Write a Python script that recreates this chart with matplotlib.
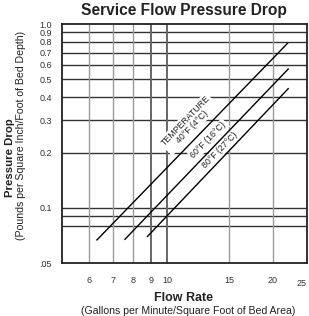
import matplotlib
matplotlib.use("Agg")
import matplotlib.pyplot as plt

plt.rcParams['font.family'] = ['Liberation Sans', 'DejaVu Sans']

# Data
flow_40 = [6.3, 22.0]
pd_40 = [0.067, 0.785]
flow_60 = [7.57, 22.1]
pd_60 = [0.0675, 0.569]
flow_80 = [8.78, 22.1]
pd_80 = [0.070, 0.445]

x_ticks = [6, 7, 8, 9, 10, 15, 20, 25]
x_labels = ['6', '7', '8', '9', '10', '15', '20', '25']
y_ticks = [0.05, 0.1, 0.2, 0.3, 0.4, 0.5, 0.6, 0.7, 0.8, 0.9, 1.0]
y_labels = ['.05', '0.1', '0.2', '0.3', '0.4', '0.5', '0.6', '0.7', '0.8', '0.9', '1.0']
h_grid = [0.08, 0.09, 0.1, 0.2, 0.3, 0.4, 0.5, 0.6, 0.7, 0.8, 0.9]
v_grid_light = [6, 7, 8, 15, 20]
v_grid_dark = [9, 10]

fig = plt.figure(figsize=(3.09, 3.16), dpi=100)
ax = fig.add_axes([0.1997, 0.1668, 0.7938, 0.7572])
ax.set_xscale('log')
ax.set_yscale('log')
ax.set_xlim(5.0, 25.0)
ax.set_ylim(0.05, 1.0)

for y in h_grid:
    ax.axhline(y, color='#333333', lw=1.0, zorder=1)
for x in v_grid_light:
    ax.axvline(x, color='#9a9a9a', lw=1.0, zorder=1)
for x in v_grid_dark:
    ax.axvline(x, color='#666666', lw=1.4, zorder=1)

for fx, py in [(flow_40, pd_40), (flow_60, pd_60), (flow_80, pd_80)]:
    ax.plot(fx, py, color='black', lw=1.0, zorder=4)

bb = dict(facecolor='white', edgecolor='none', pad=1.0)
ax.text(11.5, 0.286, 'TEMPERATURE\n40°F (4°C)', rotation=46, rotation_mode='anchor',
        ha='center', va='center', fontsize=6.3, color='#222222', linespacing=1.0,
        bbox=bb, zorder=3)
ax.text(13.1, 0.234, '60°F (16°C)', rotation=46, rotation_mode='anchor',
        ha='center', va='center', fontsize=6.3, color='#222222', bbox=bb, zorder=3)
ax.text(14.1, 0.205, '80°F (27°C)', rotation=46, rotation_mode='anchor',
        ha='center', va='center', fontsize=6.3, color='#222222', bbox=bb, zorder=3)

ax.set_xticks(x_ticks)
ax.set_xticklabels(x_labels)
ax.set_yticks(y_ticks)
ax.set_yticklabels(y_labels)
ax.minorticks_off()
ax.tick_params(axis='both', length=0, labelsize=6.5, colors='#333333')
ax.tick_params(axis='x', pad=9)
ax.tick_params(axis='y', pad=7)
for lab in ax.get_xticklabels():
    if lab.get_text() == '25':
        lab.set_ha('right')
        lab.set_y(-0.012)

for s in ax.spines.values():
    s.set_color('#222222')
    s.set_linewidth(1.3)

fig.text(0.595, 0.967, 'Service Flow Pressure Drop', ha='center', va='center',
         fontsize=11.2, fontweight='bold', color='#222222')
fig.text(0.595, 0.058, 'Flow Rate', ha='center', va='center',
         fontsize=9, fontweight='bold', color='#222222')
fig.text(0.61, 0.016, '(Gallons per Minute/Square Foot of Bed Area)', ha='center', va='center',
         fontsize=7.6, color='#222222')
fig.text(0.033, 0.50, 'Pressure Drop', ha='center', va='center', rotation=90,
         fontsize=8.2, fontweight='bold', color='#222222')
fig.text(0.069, 0.572, '(Pounds per Square Inch/Foot of Bed Depth)', ha='center', va='center',
         rotation=90, fontsize=7.6, color='#222222')

fig.savefig('out.png', dpi=100)
